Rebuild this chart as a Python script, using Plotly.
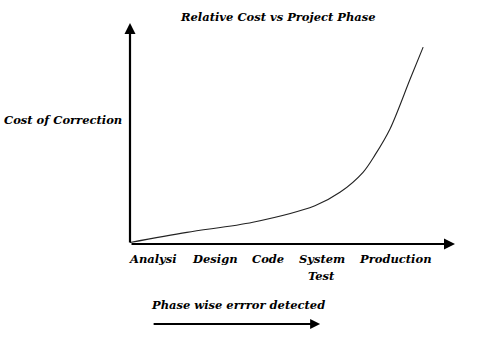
import plotly.graph_objects as go

# Data: phase progress (x) vs relative cost of correction (y)
curve_x = [0.0, 1.75, 3.78, 5.69, 6.46, 7.17, 7.54, 8.0, 8.62, 9.02]
curve_y = [0.7, 5.3, 9.9, 17.4, 23.5, 32.6, 40.5, 52.3, 75.0, 89.5]

phases = ["Analysi", "Design", "Code", "System", "Production"]
phase_pos = [0.71, 2.62, 4.25, 5.9, 8.18]
phase_line2 = ["", "", "", "Test", ""]

title_text = "Relative Cost vs Project Phase"
y_label = "Cost of Correction"
x_note = "Phase wise errror detected"

FONT = dict(family="DejaVu Serif", size=11.5, color="black", style="italic", weight="bold")

fig = go.Figure()
fig.add_trace(go.Scatter(x=curve_x, y=curve_y, mode="lines",
                         line=dict(color="#222222", width=1.1, shape="spline", smoothing=0.9),
                         hoverinfo="skip", showlegend=False))

annotations = []
# axes arrows
annotations.append(dict(x=0, y=100.5, xref="x", yref="y", ax=0, ay=0, axref="x", ayref="y",
                        showarrow=True, arrowhead=2, arrowsize=1, arrowwidth=2.2, arrowcolor="black", text=""))
annotations.append(dict(x=10, y=0, xref="x", yref="y", ax=0, ay=0, axref="x", ayref="y",
                        showarrow=True, arrowhead=2, arrowsize=1, arrowwidth=2.2, arrowcolor="black", text=""))
# tick labels
for name, pos, second in zip(phases, phase_pos, phase_line2):
    annotations.append(dict(x=pos, y=0, xref="x", yref="y", text=name, showarrow=False,
                            yanchor="top", xanchor="center", yshift=-6, font=FONT))
    if second:
        annotations.append(dict(x=pos, y=0, xref="x", yref="y", text=second, showarrow=False,
                                yanchor="top", xanchor="center", yshift=-23, font=FONT))
# title
annotations.append(dict(x=0.455, y=1.032, xref="paper", yref="paper", text=title_text,
                        showarrow=False, xanchor="center", yanchor="middle", font=FONT))
# y label
annotations.append(dict(x=-0.206, y=0.564, xref="paper", yref="paper", text=y_label,
                        showarrow=False, xanchor="center", yanchor="middle", font=FONT))
# bottom note
annotations.append(dict(x=0.332, y=-0.277, xref="paper", yref="paper", text=x_note,
                        showarrow=False, xanchor="center", yanchor="middle", font=FONT))
# bottom arrow
annotations.append(dict(x=0.585, y=-0.364, xref="paper", yref="paper", ax=-168, ay=0,
                        showarrow=True, arrowhead=2, arrowsize=1, arrowwidth=2, arrowcolor="black", text=""))

fig.update_layout(
    width=496, height=354,
    margin=dict(l=130, r=41, t=24, b=110),
    paper_bgcolor="white", plot_bgcolor="white",
    xaxis=dict(range=[0, 10], visible=False, fixedrange=True),
    yaxis=dict(range=[0, 100], visible=False, fixedrange=True),
    annotations=annotations,
)

fig.write_html("out.html")
